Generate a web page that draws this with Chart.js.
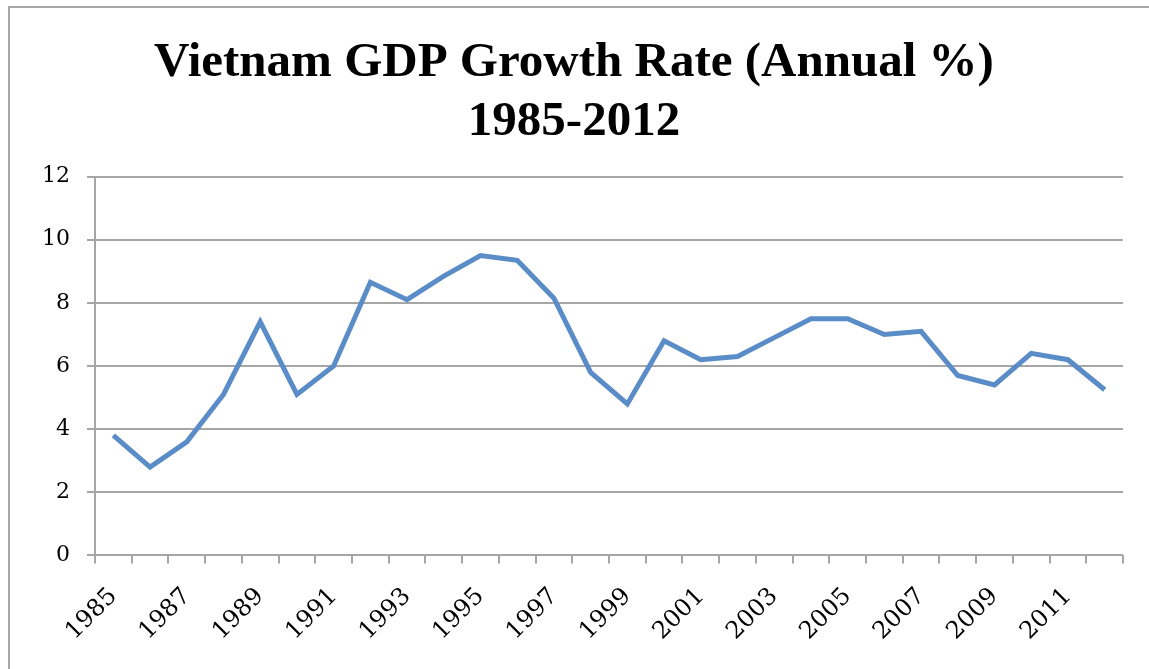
<!DOCTYPE html>
<html>
<head>
<meta charset="utf-8">
<script src="https://cdn.jsdelivr.net/npm/chart.js@4"></script>
<style>
    body { margin: 0; background: #ffffff; overflow: hidden; }
    #frame {
        position: absolute; left: 8px; top: 6px; width: 1200px; height: 700px;
        border-left: 2px solid #a6a6a6; border-top: 2px solid #a6a6a6;
    }
    #wrap { position: absolute; left: 0; top: 0; width: 1149px; height: 669px; }
</style>
</head>
<body>
<div id="frame"></div>
<div id="wrap"><canvas id="gdp-chart"></canvas></div>
<script>
// 年份与增长率数据
const years = ['1985', '1986', '1987', '1988', '1989', '1990', '1991', '1992', '1993', '1994',
    '1995', '1996', '1997', '1998', '1999', '2000', '2001', '2002', '2003', '2004',
    '2005', '2006', '2007', '2008', '2009', '2010', '2011', '2012'];
const growthRates = [3.8, 2.8, 3.6, 5.1, 7.4, 5.1, 6.0, 8.65, 8.1, 8.85,
    9.5, 9.35, 8.15, 5.8, 4.8, 6.8, 6.2, 6.3, 6.9, 7.5,
    7.5, 7.0, 7.1, 5.7, 5.4, 6.4, 6.2, 5.25];
const titleLines = ['Vietnam GDP Growth Rate (Annual %)', '1985-2012'];

document.addEventListener('DOMContentLoaded', function() {
    const ctx = document.getElementById('gdp-chart').getContext('2d');
    const gridColor = '#a6a6a6';

    new Chart(ctx, {
        type: 'line',
        data: {
            labels: years,
            datasets: [{
                data: growthRates,
                borderColor: '#5a8dc8',
                borderWidth: 5,
                pointRadius: 0,
                tension: 0,
                fill: false
            }]
        },
        options: {
            responsive: true,
            maintainAspectRatio: false,
            animation: false,
            layout: { padding: { left: 25, right: 26, top: 0, bottom: 4 } },
            plugins: {
                legend: { display: false },
                tooltip: { enabled: false },
                title: {
                    display: true,
                    text: titleLines,
                    color: '#000000',
                    font: { family: 'Liberation Serif', size: 49, weight: 'bold' },
                    lineHeight: 1.15,
                    padding: { top: 34, bottom: 25 }
                }
            },
            scales: {
                x: {
                    offset: true,
                    grid: {
                        offset: true,
                        drawOnChartArea: false,
                        drawTicks: true,
                        tickLength: 8,
                        color: gridColor,
                        lineWidth: 2
                    },
                    border: { display: false },
                    ticks: {
                        autoSkip: false,
                        maxRotation: 45,
                        minRotation: 45,
                        padding: 19,
                        color: '#000000',
                        font: { family: 'DejaVu Serif', size: 24 },
                        callback: function(value, index) {
                            return index % 2 === 0 ? years[index] : '';
                        }
                    }
                },
                y: {
                    min: 0,
                    max: 12,
                    grid: {
                        color: gridColor,
                        lineWidth: 2,
                        tickLength: 8
                    },
                    border: { color: gridColor, width: 2 },
                    ticks: {
                        stepSize: 2,
                        padding: 17,
                        color: '#000000',
                        font: { family: 'DejaVu Serif', size: 22 }
                    }
                }
            }
        }
    });
});
</script>
</body>
</html>
